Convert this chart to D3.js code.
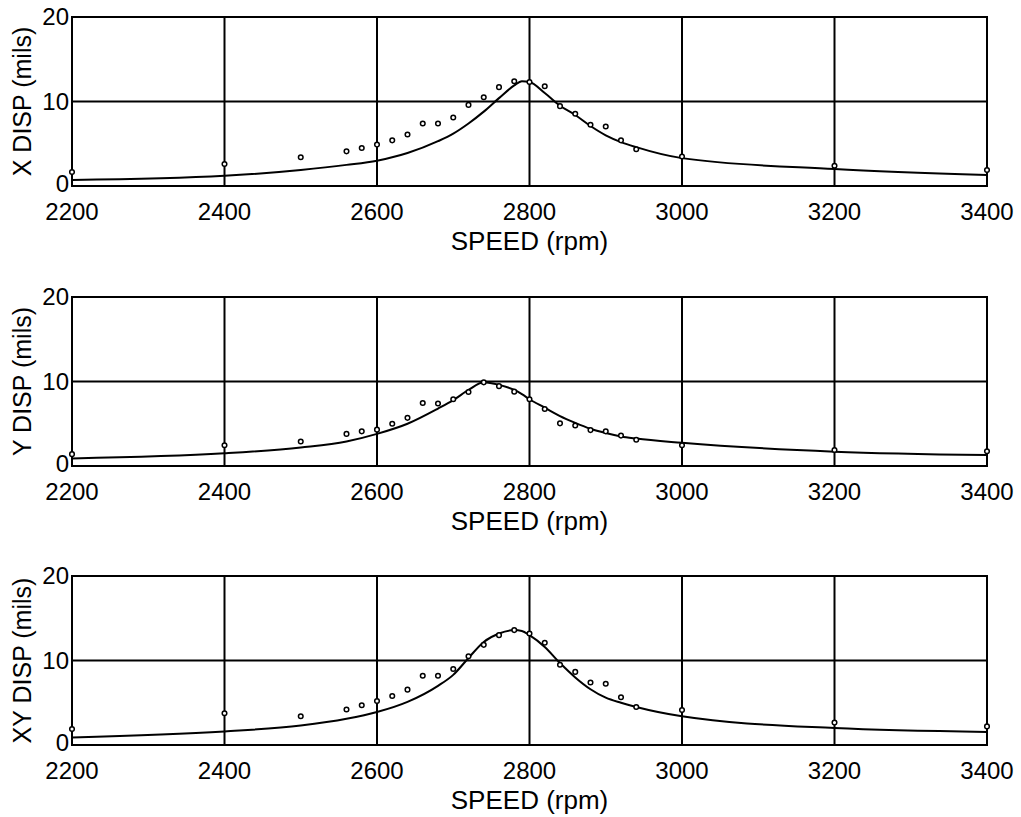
<!DOCTYPE html>
<html>
<head>
<meta charset="utf-8">
<script src="https://cdn.jsdelivr.net/npm/d3@7.9.0/dist/d3.min.js"></script>
<style>
  body { margin: 0; background: #fff; }
  svg text { font-family: Arial, "Liberation Sans", sans-serif; fill: #000; }
</style>
</head>
<body>
<svg id="chart" width="1021" height="817"></svg>
<script>
// measured speeds (rpm) for the dots
const measSpeed = [2200, 2400, 2500, 2560, 2580, 2600, 2620, 2640, 2660, 2680, 2700, 2720, 2740,
  2760, 2780, 2800, 2820, 2840, 2860, 2880, 2900, 2920, 2940, 3000, 3200, 3400];
const measX = [1.65, 2.6, 3.4, 4.1, 4.5, 4.9, 5.4, 6.1, 7.4, 7.4, 8.1, 9.6, 10.5,
  11.7, 12.4, 12.3, 11.8, 9.45, 8.55, 7.25, 7.05, 5.4, 4.35, 3.5, 2.4, 1.9];
const measY = [1.4, 2.45, 2.9, 3.8, 4.1, 4.3, 5.0, 5.7, 7.45, 7.4, 7.9, 8.75, 9.9,
  9.45, 8.8, 7.9, 6.75, 5.05, 4.8, 4.25, 4.1, 3.6, 3.1, 2.45, 1.9, 1.75];
const measXY = [1.9, 3.75, 3.4, 4.2, 4.7, 5.2, 5.8, 6.55, 8.2, 8.2, 9.0, 10.5, 11.85,
  13.0, 13.6, 13.2, 12.1, 9.5, 8.65, 7.4, 7.25, 5.65, 4.5, 4.15, 2.65, 2.2];

// predicted response curve
const curveSpeed = [2200, 2400, 2500, 2560, 2600, 2640, 2680, 2700, 2720, 2740, 2760, 2780, 2790,
  2800, 2820, 2840, 2860, 2880, 2900, 2920, 2940, 3000, 3200, 3400];
const curveX = [0.7, 1.2, 1.9, 2.5, 3.0, 3.9, 5.3, 6.2, 7.4, 8.8, 10.4, 11.9, 12.4,
  12.3, 11.0, 9.5, 8.4, 7.1, 6.0, 5.2, 4.6, 3.3, 2.0, 1.3];
const curveY = [0.9, 1.5, 2.2, 2.9, 3.8, 5.0, 6.8, 7.8, 9.0, 9.9, 9.6, 9.0, 8.5,
  7.9, 6.9, 5.9, 5.1, 4.4, 3.9, 3.5, 3.25, 2.75, 1.7, 1.3];
const curveXY = [0.9, 1.6, 2.3, 3.1, 3.9, 5.1, 7.0, 8.3, 10.3, 12.2, 13.2, 13.6, 13.5,
  13.0, 11.6, 9.7, 8.0, 6.6, 5.6, 5.0, 4.5, 3.4, 2.0, 1.55];

const panelLabels = ['X DISP (mils)', 'Y DISP (mils)', 'XY DISP (mils)'];
const xTicks = [2200, 2400, 2600, 2800, 3000, 3200, 3400];
const yTicks = [0, 10, 20];
const xTitle = 'SPEED (rpm)';

const panels = [
  { label: panelLabels[0], meas: measX, curve: curveX, top: 17 },
  { label: panelLabels[1], meas: measY, curve: curveY, top: 297 },
  { label: panelLabels[2], meas: measXY, curve: curveXY, top: 576 }
];

const svg = d3.select('#chart');
const left = 72, right = 987, panelH = 169;

let x = d3.scaleLinear().domain([2200, 3400]).range([left, right]);

panels.forEach((p) => {
  let y = d3.scaleLinear().domain([0, 20]).range([p.top + panelH, p.top]);
  let g = svg.append('g');

  // grid lines
  g.selectAll('.vgrid')
    .data(xTicks.slice(1, -1))
    .join('line')
    .attr('x1', (d) => x(d)).attr('x2', (d) => x(d))
    .attr('y1', p.top).attr('y2', p.top + panelH)
    .attr('stroke', '#000').attr('stroke-width', 2);
  g.append('line')
    .attr('x1', left).attr('x2', right)
    .attr('y1', y(10)).attr('y2', y(10))
    .attr('stroke', '#000').attr('stroke-width', 2);

  // frame
  g.append('rect')
    .attr('x', left).attr('y', p.top)
    .attr('width', right - left).attr('height', panelH)
    .attr('fill', 'none').attr('stroke', '#000').attr('stroke-width', 2);

  // tick labels
  g.selectAll('.xt')
    .data(xTicks)
    .join('text')
    .attr('x', (d) => x(d))
    .attr('y', p.top + panelH + 34)
    .attr('text-anchor', 'middle')
    .attr('font-size', 24)
    .text((d) => d);
  g.selectAll('.yt')
    .data(yTicks)
    .join('text')
    .attr('x', left - 3)
    .attr('y', (d) => y(d) + (d === 0 ? 6 : 8))
    .attr('text-anchor', 'end')
    .attr('font-size', 24)
    .text((d) => d);

  // axis titles
  g.append('text')
    .attr('x', (left + right) / 2)
    .attr('y', p.top + panelH + 64)
    .attr('text-anchor', 'middle')
    .attr('font-size', 26)
    .text(xTitle);
  g.append('text')
    .attr('transform', `translate(31,${p.top + panelH / 2}) rotate(-90)`)
    .attr('text-anchor', 'middle')
    .attr('font-size', 25)
    .text(p.label);

  // curve
  let line = d3.line()
    .x((d) => x(d[0]))
    .y((d) => y(d[1]))
    .curve(d3.curveMonotoneX);
  g.append('path')
    .attr('d', line(d3.zip(curveSpeed, p.curve)))
    .attr('fill', 'none')
    .attr('stroke', '#000')
    .attr('stroke-width', 2);

  // measured dots
  g.selectAll('.dot')
    .data(d3.zip(measSpeed, p.meas))
    .join('circle')
    .attr('cx', (d) => x(d[0]))
    .attr('cy', (d) => y(d[1]))
    .attr('r', 2.3)
    .attr('fill', '#fff')
    .attr('stroke', '#000')
    .attr('stroke-width', 1.5);
});
</script>
</body>
</html>
